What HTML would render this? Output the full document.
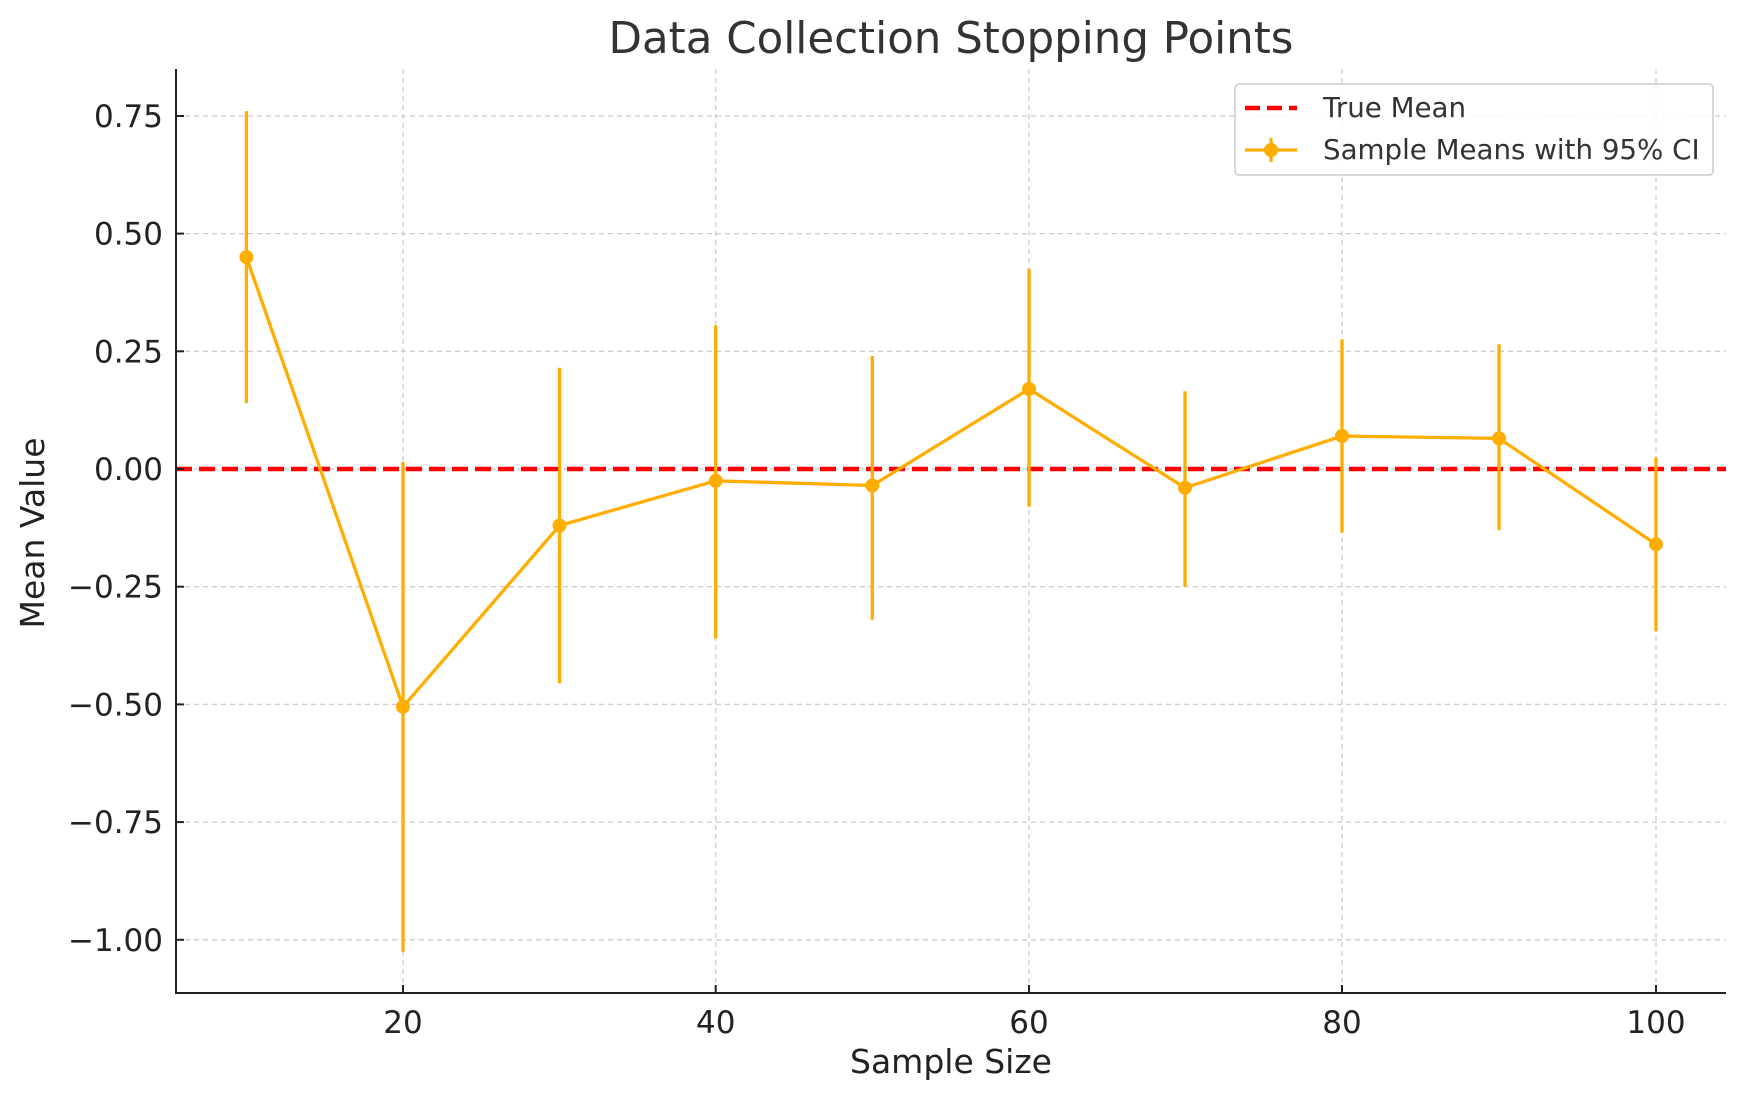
<!DOCTYPE html>
<html><head><style>body{margin:0;background:#fff}svg{display:block}</style></head><body>
<svg width="1746" height="1101" viewBox="0 0 1746 1101" xmlns="http://www.w3.org/2000/svg" font-family="DejaVu Sans, Liberation Sans, sans-serif">
<rect width="1746" height="1101" fill="#fff"/>
<g stroke="#cccccc" stroke-width="1.3" stroke-dasharray="5,4">
<line x1="403" y1="69" x2="403" y2="993"/>
<line x1="715.7" y1="69" x2="715.7" y2="993"/><line x1="1029" y1="69" x2="1029" y2="993"/>
<line x1="1342" y1="69" x2="1342" y2="993"/><line x1="1656" y1="69" x2="1656" y2="993"/>
<line x1="176" y1="116" x2="1726" y2="116"/><line x1="176" y1="233.6" x2="1726" y2="233.6"/>
<line x1="176" y1="351.3" x2="1726" y2="351.3"/><line x1="176" y1="469" x2="1726" y2="469"/>
<line x1="176" y1="586.7" x2="1726" y2="586.7"/><line x1="176" y1="704.4" x2="1726" y2="704.4"/>
<line x1="176" y1="822.1" x2="1726" y2="822.1"/><line x1="176" y1="939.8" x2="1726" y2="939.8"/>
</g>
<line x1="176" y1="469" x2="1726" y2="469" stroke="#ff0000" stroke-width="4.5" stroke-dasharray="16,7"/>
<g stroke="#ffad00" stroke-width="3.3" fill="none">
<line x1="246.4" y1="111.2" x2="246.4" y2="403.1"/>
<line x1="403" y1="461.9" x2="403" y2="951.6"/>
<line x1="559.6" y1="367.8" x2="559.6" y2="683.2"/>
<line x1="715.7" y1="325.4" x2="715.7" y2="638.5"/>
<line x1="872.3" y1="356" x2="872.3" y2="619.7"/>
<line x1="1029" y1="268.9" x2="1029" y2="506.7"/>
<line x1="1185" y1="391.3" x2="1185" y2="586.7"/>
<line x1="1342" y1="339.5" x2="1342" y2="532.6"/>
<line x1="1499" y1="344.2" x2="1499" y2="530.2"/>
<line x1="1656" y1="457.2" x2="1656" y2="631.4"/>
<polyline points="246.4,257.1 403,706.8 559.6,525.5 715.7,480.8 872.3,485.5 1029,389 1185,487.8 1342,436 1499,438.4 1656,544.3"/>
</g>
<g fill="#ffad00">
<circle cx="246.4" cy="257.1" r="7"/><circle cx="403" cy="706.8" r="7"/><circle cx="559.6" cy="525.5" r="7"/>
<circle cx="715.7" cy="480.8" r="7"/><circle cx="872.3" cy="485.5" r="7"/><circle cx="1029" cy="389" r="7"/>
<circle cx="1185" cy="487.8" r="7"/><circle cx="1342" cy="436" r="7"/><circle cx="1499" cy="438.4" r="7"/>
<circle cx="1656" cy="544.3" r="7"/>
</g>
<g stroke="#222" stroke-width="2">
<line x1="176" y1="69" x2="176" y2="994"/><line x1="175" y1="993" x2="1726" y2="993"/>
<line x1="403" y1="993" x2="403" y2="985"/><line x1="715.7" y1="993" x2="715.7" y2="985"/>
<line x1="1029" y1="993" x2="1029" y2="985"/><line x1="1342" y1="993" x2="1342" y2="985"/>
<line x1="1656" y1="993" x2="1656" y2="985"/>
<line x1="176" y1="116" x2="184" y2="116"/><line x1="176" y1="233.6" x2="184" y2="233.6"/>
<line x1="176" y1="351.3" x2="184" y2="351.3"/><line x1="176" y1="469" x2="184" y2="469"/>
<line x1="176" y1="586.7" x2="184" y2="586.7"/><line x1="176" y1="704.4" x2="184" y2="704.4"/>
<line x1="176" y1="822.1" x2="184" y2="822.1"/><line x1="176" y1="939.8" x2="184" y2="939.8"/>
</g>
<g font-size="31" fill="#222" text-anchor="middle">
<text x="403" y="1033">20</text><text x="715.7" y="1033">40</text><text x="1029" y="1033">60</text>
<text x="1342" y="1033">80</text><text x="1656" y="1033">100</text>
</g>
<g font-size="31" fill="#222" text-anchor="end">
<text x="163" y="127">0.75</text><text x="163" y="244.6">0.50</text><text x="163" y="362.3">0.25</text>
<text x="163" y="480">0.00</text><text x="163" y="597.7">−0.25</text><text x="163" y="715.4">−0.50</text>
<text x="163" y="833.1">−0.75</text><text x="163" y="950.8">−1.00</text>
</g>
<text x="951" y="1073" font-size="33" fill="#222" text-anchor="middle">Sample Size</text>
<text transform="translate(44,533) rotate(-90)" font-size="33" fill="#222" text-anchor="middle">Mean Value</text>
<text x="951" y="53" font-size="43.5" fill="#333" text-anchor="middle">Data Collection Stopping Points</text>
<rect x="1235" y="84" width="478" height="91" rx="4" fill="#fff" fill-opacity="0.85" stroke="#ccc" stroke-width="1.5"/>
<line x1="1245" y1="108" x2="1297" y2="108" stroke="#ff0000" stroke-width="4.5" stroke-dasharray="15,7"/>
<line x1="1245" y1="150" x2="1297" y2="150" stroke="#ffad00" stroke-width="3.3"/>
<line x1="1271" y1="138" x2="1271" y2="162" stroke="#ffad00" stroke-width="3.3"/>
<circle cx="1271" cy="150" r="7" fill="#ffad00"/>
<text x="1323" y="117" font-size="27.7" fill="#333">True Mean</text>
<text x="1323" y="159" font-size="27.7" fill="#333">Sample Means with 95% CI</text>
</svg>
</body></html>
